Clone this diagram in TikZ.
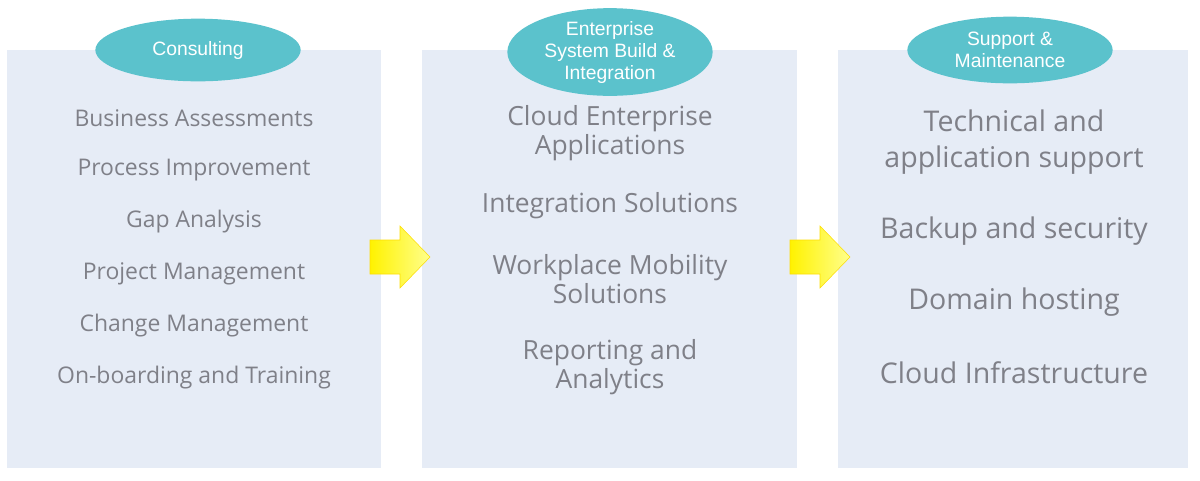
\documentclass[tikz,border=0pt]{standalone}
\usepackage{fontspec}
\setmainfont{Open Sans}
\newfontfamily\lab{Liberation Sans}
\usetikzlibrary{shapes.geometric}
\definecolor{panel}{HTML}{E6ECF6}
\definecolor{ell}{HTML}{5BC2CC}
\definecolor{txt}{HTML}{7F8088}
\tikzset{
  pan/.style={fill=panel,draw=none},
  hdr/.style={ellipse,fill=ell,draw=none,text=white,font=\lab\fontsize{14.5}{16.5}\selectfont,align=center,inner sep=0pt},
  itA/.style={text=txt,font=\fontsize{17.2}{20}\selectfont,align=center},
  itB/.style={text=txt,font=\fontsize{19.8}{21.8}\selectfont,align=center},
  itC/.style={text=txt,font=\fontsize{21.4}{26.5}\selectfont,align=center},
}
\begin{document}
\begin{tikzpicture}[x=0.75pt,y=-0.75pt]
\useasboundingbox (0,0) rectangle (1200,480);
\fill[pan] (7,50) rectangle (381,468);
\fill[pan] (422,50) rectangle (797,468);
\fill[pan] (838,50) rectangle (1188,468);
\node[hdr,minimum width=154pt,minimum height=47pt] (h1) at (198,50) {Consulting};
\node[hdr,minimum width=154pt,minimum height=53pt] (h2) at (610,52) {Enterprise\\System Build \&\\Integration};
\node[hdr,minimum width=154pt,minimum height=50pt] (h3) at (1010,50) {Support \&\\Maintenance};
\node[itA] (a1) at (194,118) {Business Assessments};
\node[itA] (a2) at (194,170) {Process Improvement};
\node[itA] (a3) at (194,222) {Gap Analysis};
\node[itA] (a4) at (194,274) {Project Management};
\node[itA] (a5) at (194,326) {Change Management};
\node[itA] (a6) at (194,378) {On-boarding and Training};
\node[itB] (b1) at (610,133) {Cloud Enterprise\\Applications};
\node[itB] (b2) at (610,206) {Integration Solutions};
\node[itB] (b3) at (610,279) {Workplace Mobility\\Solutions};
\node[itB] (b4) at (610,367) {Reporting and\\Analytics};
\node[itC] (c1) at (1014,142) {Technical and\\application support};
\node[itC] (c2) at (1014,231) {Backup and security};
\node[itC] (c3) at (1014,302) {Domain hosting};
\node[itC] (c4) at (1014,373) {Cloud Infrastructure};
\foreach \x in {370,790}{
\shade[left color=yellow!90!orange,right color=yellow!45,draw=yellow!80!orange,line width=0.4pt]
 (\x,240) -- (\x+30,240) -- (\x+30,226) -- (\x+60,257) -- (\x+30,288) -- (\x+30,274) -- (\x,274) -- cycle;
}
\end{tikzpicture}
\end{document}
